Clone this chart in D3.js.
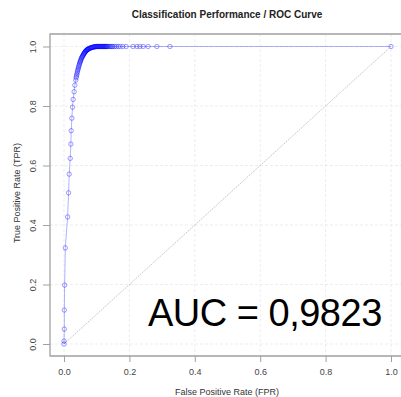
<!DOCTYPE html>
<html>
<head>
<meta charset="utf-8">
<script src="https://cdn.jsdelivr.net/npm/d3@7"></script>
<style>
  body { margin: 0; background: #fff; }
  svg { display: block; font-family: "Liberation Sans", Arial, sans-serif; }
</style>
</head>
<body>
<svg id="roc"></svg>
<script>
// ROC points
const fpr = [0, 0, 0.001, 0.001, 0.002, 0.004, 0.011, 0.014, 0.016, 0.019, 0.021, 0.022, 0.024, 0.026, 0.028, 0.031, 0.033, 0.036,
  0.037, 0.038, 0.039, 0.040, 0.041, 0.042, 0.043, 0.044, 0.045, 0.046, 0.047, 0.048, 0.049, 0.050, 0.051, 0.052, 0.053, 0.054,
  0.055, 0.056, 0.057, 0.058, 0.059, 0.060, 0.061, 0.062, 0.063, 0.064, 0.065, 0.066, 0.067, 0.068, 0.069, 0.070, 0.071, 0.072,
  0.073, 0.074, 0.075, 0.077, 0.078, 0.080, 0.081, 0.083, 0.084, 0.086, 0.087, 0.089, 0.090, 0.092, 0.093, 0.095, 0.096, 0.098,
  0.099, 0.101, 0.102, 0.104, 0.105, 0.107, 0.108, 0.110, 0.111, 0.113, 0.114, 0.116, 0.117, 0.119, 0.120, 0.122, 0.123, 0.125,
  0.126, 0.128, 0.129, 0.131, 0.132, 0.135, 0.138, 0.141, 0.144, 0.147, 0.150, 0.155, 0.160, 0.166, 0.172, 0.180, 0.190, 0.211,
  0.223, 0.232, 0.242, 0.257, 0.284, 0.324, 1.0];
const tpr = [0, 0.01, 0.05, 0.114, 0.198, 0.323, 0.427, 0.508, 0.571, 0.624, 0.672, 0.717, 0.759, 0.796, 0.822, 0.848, 0.87, 0.887,
  0.895, 0.900, 0.905, 0.910, 0.915, 0.920, 0.924, 0.928, 0.932, 0.936, 0.940, 0.944, 0.947, 0.950, 0.953, 0.956, 0.959, 0.962,
  0.964, 0.966, 0.968, 0.970, 0.972, 0.974, 0.976, 0.978, 0.979, 0.981, 0.982, 0.984, 0.985, 0.986, 0.987, 0.988, 0.989, 0.990,
  0.991, 0.991, 0.992, 0.993, 0.994, 0.995, 0.995, 0.996, 0.996, 0.997, 0.997, 0.998, 0.998, 0.999, 0.999, 0.999, 0.999, 1,
  1, 1, 1, 1, 1, 1, 1, 1, 1, 1, 1, 1, 1, 1, 1, 1, 1, 1,
  1, 1, 1, 1, 1, 1, 1, 1, 1, 1, 1, 1, 1, 1, 1, 1, 1, 1,
  1, 1, 1, 1, 1, 1, 1];
const ticks = [0, 0.2, 0.4, 0.6, 0.8, 1.0];
const aucLabel = "AUC = 0,9823";

const W = 401, H = 397;
const svg = d3.select("#roc").attr("width", W).attr("height", H);

// scales (plot box: left 50, top 34, bottom 356)
const x = d3.scaleLinear().domain([0, 1]).range([64, 391]);
const y = d3.scaleLinear().domain([0, 1]).range([344, 46.5]);
const box = {left: 50, top: 34, bottom: 356, right: 401};

// grid
svg.append("g").selectAll("line").data(ticks).join("line")
  .attr("x1", d => x(d)).attr("x2", d => x(d))
  .attr("y1", box.top).attr("y2", box.bottom)
  .attr("stroke", "#ededed").attr("stroke-dasharray", "3,2");
svg.append("g").selectAll("line").data(ticks).join("line")
  .attr("x1", box.left).attr("x2", box.right)
  .attr("y1", d => y(d)).attr("y2", d => y(d))
  .attr("stroke", "#ededed").attr("stroke-dasharray", "3,2");

// chance diagonal
svg.append("line")
  .attr("x1", x(0)).attr("y1", y(0)).attr("x2", x(1)).attr("y2", y(1))
  .attr("stroke", "#b4b4b4").attr("stroke-width", 0.8).attr("stroke-dasharray", "1.5,1");

// box (left, top, bottom)
svg.append("path")
  .attr("d", `M${box.right},${box.top}H${box.left}V${box.bottom}H${box.right}`)
  .attr("fill", "none").attr("stroke", "#a0a0a0").attr("stroke-width", 1.3);

// axes
const xAxis = svg.append("g").attr("transform", `translate(0,${box.bottom})`)
  .call(d3.axisBottom(x).tickValues(ticks).tickFormat(d3.format(".1f")).tickSize(6).tickPadding(7));
const yAxis = svg.append("g").attr("transform", `translate(${box.left},0)`)
  .call(d3.axisLeft(y).tickValues(ticks).tickFormat(d3.format(".1f")).tickSize(7));
[xAxis, yAxis].forEach(a => {
  a.select(".domain").remove();
  a.selectAll(".tick line").attr("stroke", "#a0a0a0");
  a.selectAll(".tick text").attr("fill", "#444").style("font-size", "9px");
});
// rotated y labels
yAxis.selectAll(".tick text")
  .attr("x", 0).attr("y", 0).attr("dy", "0.35em").attr("text-anchor", "middle")
  .attr("transform", "translate(-17,0) rotate(-90)");

// curve
const pts = fpr.map((f, i) => ({f: f, t: tpr[i]}));
svg.append("path").datum(pts)
  .attr("d", d3.line().x(d => x(d.f)).y(d => y(d.t)))
  .attr("fill", "none").attr("stroke", "#0000ff").attr("stroke-opacity", 0.3)
  .attr("stroke-width", 1);
svg.append("g").selectAll("circle").data(pts).join("circle")
  .attr("cx", d => x(d.f)).attr("cy", d => y(d.t)).attr("r", 2.2)
  .attr("fill", "none").attr("stroke", "#0000ff").attr("stroke-opacity", 0.42).attr("stroke-width", 0.9);

// titles
svg.append("text").attr("x", 227).attr("y", 18).attr("text-anchor", "middle")
  .style("font-size", "10px").style("font-weight", "bold").attr("fill", "#222")
  .text("Classification Performance / ROC Curve");
svg.append("text").attr("x", 227).attr("y", 395).attr("text-anchor", "middle")
  .style("font-size", "9px").attr("fill", "#333").text("False Positive Rate (FPR)");
svg.append("text").attr("transform", "translate(20,193) rotate(-90)").attr("text-anchor", "middle")
  .style("font-size", "9px").attr("fill", "#333").text("True Positive Rate (TPR)");

// AUC label
svg.append("text").attr("x", 148).attr("y", 326)
  .style("font-size", "38px").style("letter-spacing", "-0.5px").attr("fill", "#000").text(aucLabel);
</script>
</body>
</html>
